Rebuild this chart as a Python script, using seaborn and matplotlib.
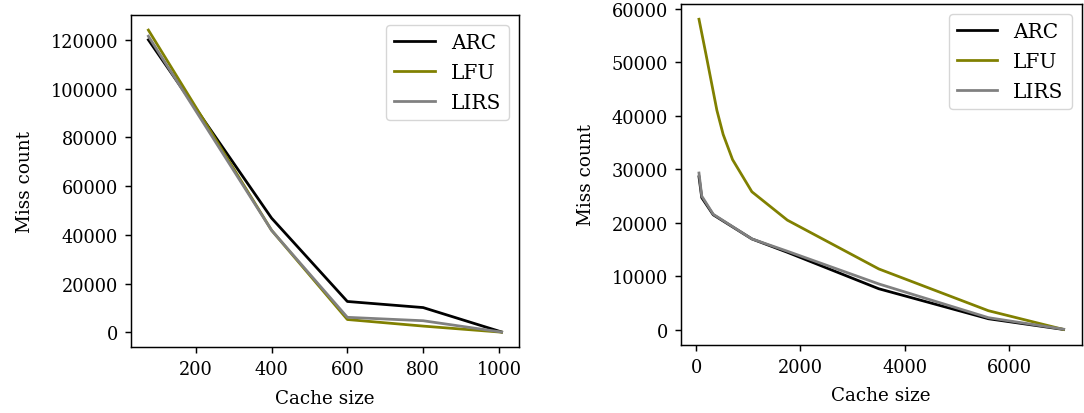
import matplotlib
matplotlib.use("Agg")
import matplotlib.pyplot as plt
import seaborn as sns
import pandas as pd

# ---- data ----
policies = ["ARC", "LFU", "LIRS"]
colors = {"ARC": "#000000", "LFU": "#808000", "LIRS": "#808080"}

left_sizes = [75, 400, 600, 800, 1007]
left_arc = [120000, 46900, 12700, 10200, 200]
left_lfu = [124000, 41900, 5300, 2600, 100]
left_lirs = [121500, 41900, 6200, 4800, 150]

right_sizes_lfu = [57, 190, 400, 520, 700, 1070, 1750, 3500, 5600, 7040]
right_lfu = [58000, 51500, 41000, 36500, 31800, 25800, 20500, 11400, 3600, 100]

right_sizes_base = [57, 110, 330, 1070, 1750, 3500, 5600, 7040]
right_arc = [28600, 24700, 21500, 17000, 14500, 7700, 2100, 100]
right_lirs = [29300, 25000, 21600, 17000, 14700, 8600, 2300, 150]


def frame(sizes_list, values_list):
    rows = []
    for name, xs, ys in zip(policies, sizes_list, values_list):
        for x, y in zip(xs, ys):
            rows.append({"Cache size": x, "Miss count": y, "policy": name})
    return pd.DataFrame(rows)


df_left = frame([left_sizes] * 3, [left_arc, left_lfu, left_lirs])
df_right = frame([right_sizes_base, right_sizes_lfu, right_sizes_base],
                 [right_arc, right_lfu, right_lirs])

s = 1.32
plt.rcParams.update({
    "font.family": ["DejaVu Serif"],
    "font.size": 13,
    "xtick.labelsize": 12.8,
    "ytick.labelsize": 12.8,
    "axes.labelsize": 13.2,
    "axes.linewidth": 0.8 * s,
    "xtick.major.size": 3.5 * s,
    "ytick.major.size": 3.5 * s,
    "xtick.major.width": 0.8 * s,
    "ytick.major.width": 0.8 * s,
    "xtick.major.pad": 3.5 * s,
    "ytick.major.pad": 3.5 * s,
    "axes.labelpad": 7.5,
})

fig = plt.figure(figsize=(10.84, 4.14), dpi=100)
ax1 = fig.add_axes([0.1206, 0.1587, 0.479 - 0.1206, 0.9614 - 0.1587])
ax2 = fig.add_axes([0.628, 0.1643, 0.998 - 0.628, 0.9886 - 0.1643])

for ax, df in ((ax1, df_left), (ax2, df_right)):
    sns.lineplot(data=df, x="Cache size", y="Miss count", hue="policy",
                 hue_order=policies, palette=colors, linewidth=1.5 * s,
                 ax=ax)
    ax.set_ylabel("Miss count", labelpad=12)
    ax.set_xlabel("Cache size", labelpad=7.5)
    sns.move_legend(ax, "upper right", title=None, fontsize=14.5,
                    labelspacing=0.55)

fig.savefig("out.png", dpi=100)
